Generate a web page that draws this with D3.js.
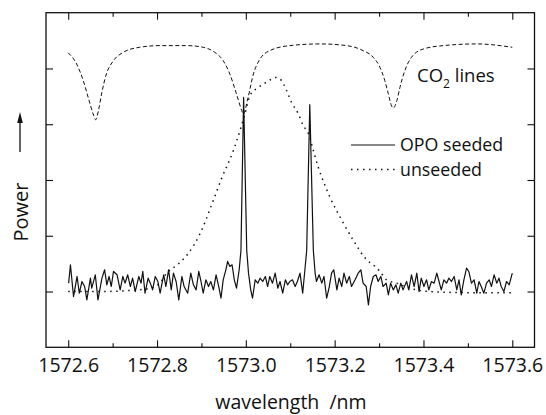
<!DOCTYPE html>
<html>
<head>
<meta charset="utf-8">
<script src="https://cdn.jsdelivr.net/npm/d3@7"></script>
<style>
  body { margin: 0; background: #fff; }
  svg text { font-family: "Open Sans", "Noto Sans", sans-serif; fill: #111; }
</style>
</head>
<body>
<div id="spectrum"></div>
<script>
// values: [wavelength nm, power a.u.]
const co2Lines = [
  [1572.600,4.28],[1572.619,4.08],[1572.634,3.78],[1572.645,3.48],[1572.656,3.19],[1572.662,3.08],
  [1572.668,3.24],[1572.675,3.54],[1572.686,3.90],[1572.701,4.13],[1572.724,4.29],[1572.761,4.38],
  [1572.807,4.41],[1572.867,4.41],[1572.904,4.38],[1572.930,4.29],[1572.949,4.14],[1572.964,3.90],
  [1572.979,3.54],[1572.991,3.24],[1572.994,3.18],[1573.005,3.48],[1573.017,3.90],[1573.032,4.17],
  [1573.054,4.32],[1573.099,4.41],[1573.167,4.44],[1573.227,4.41],[1573.264,4.32],[1573.287,4.20],
  [1573.302,4.02],[1573.313,3.78],[1573.321,3.54],[1573.328,3.33],[1573.332,3.29],[1573.340,3.42],
  [1573.347,3.66],[1573.358,3.96],[1573.373,4.20],[1573.400,4.35],[1573.445,4.41],[1573.520,4.44],
  [1573.600,4.38]
];

const unseeded = [
  [1572.600,0.00],[1572.671,0.00],[1572.739,0.02],[1572.784,0.06],[1572.807,0.16],[1572.822,0.33],
  [1572.846,0.48],[1572.858,0.57],[1572.869,0.67],[1572.897,1.04],[1572.927,1.64],[1572.945,2.02],
  [1572.972,2.53],[1572.987,2.89],[1572.998,3.19],[1573.009,3.51],[1573.028,3.66],[1573.050,3.77],
  [1573.066,3.84],[1573.077,3.81],[1573.092,3.60],[1573.103,3.39],[1573.118,3.19],[1573.129,2.98],
  [1573.141,2.83],[1573.152,2.53],[1573.163,2.23],[1573.171,2.05],[1573.189,1.70],[1573.216,1.28],
  [1573.242,0.92],[1573.272,0.57],[1573.291,0.45],[1573.302,0.36],[1573.317,0.21],[1573.340,0.15],
  [1573.358,0.09],[1573.414,0.00],[1573.504,-0.02],[1573.600,-0.02]
];

const seeded = [
  [1572.601,0.15],[1572.605,0.48],[1572.612,-0.09],[1572.620,0.27],[1572.625,-0.03],[1572.631,0.18],
  [1572.637,0.09],[1572.642,-0.15],[1572.650,0.24],[1572.653,0.06],[1572.661,0.30],[1572.667,-0.15],
  [1572.676,0.24],[1572.682,0.39],[1572.687,0.12],[1572.692,0.27],[1572.697,0.09],[1572.702,0.36],
  [1572.710,0.30],[1572.717,0.03],[1572.723,0.27],[1572.728,0.15],[1572.734,0.30],[1572.740,0.09],
  [1572.745,0.24],[1572.751,0.00],[1572.759,0.27],[1572.764,0.15],[1572.768,0.36],[1572.773,-0.03],
  [1572.780,0.24],[1572.785,0.15],[1572.790,0.03],[1572.796,0.27],[1572.802,0.18],[1572.807,-0.03],
  [1572.815,0.30],[1572.820,0.09],[1572.826,0.39],[1572.832,0.03],[1572.837,0.33],[1572.843,0.18],
  [1572.849,-0.15],[1572.856,0.27],[1572.861,0.09],[1572.869,-0.03],[1572.876,0.33],[1572.882,0.12],
  [1572.888,0.03],[1572.894,0.36],[1572.899,0.18],[1572.904,-0.03],[1572.910,0.21],[1572.916,0.09],
  [1572.921,0.18],[1572.927,0.03],[1572.933,0.30],[1572.939,0.09],[1572.944,-0.12],[1572.949,0.21],
  [1572.955,0.39],[1572.959,0.54],[1572.964,0.45],[1572.969,0.48],[1572.974,0.21],[1572.979,0.06],
  [1572.985,0.39],[1572.989,0.74],[1572.995,3.48],[1573.002,0.74],[1573.006,0.33],[1573.011,0.03],
  [1573.015,-0.12],[1573.021,0.21],[1573.027,0.15],[1573.032,0.24],[1573.038,0.18],[1573.044,0.27],
  [1573.049,0.09],[1573.054,0.27],[1573.060,0.15],[1573.066,0.33],[1573.072,0.06],[1573.077,0.18],
  [1573.083,-0.03],[1573.089,0.21],[1573.094,0.12],[1573.099,0.18],[1573.105,0.21],[1573.111,0.09],
  [1573.116,0.18],[1573.122,0.33],[1573.128,-0.03],[1573.133,0.39],[1573.137,0.74],[1573.144,3.35],
  [1573.152,0.74],[1573.156,0.33],[1573.159,0.18],[1573.165,0.30],[1573.171,0.15],[1573.176,0.27],
  [1573.182,-0.12],[1573.188,0.09],[1573.193,0.33],[1573.198,0.39],[1573.205,0.03],[1573.210,0.24],
  [1573.216,0.09],[1573.221,0.33],[1573.227,0.15],[1573.233,0.27],[1573.238,0.09],[1573.246,0.21],
  [1573.253,0.33],[1573.259,0.39],[1573.264,0.15],[1573.271,0.09],[1573.276,-0.24],[1573.281,0.09],
  [1573.287,0.27],[1573.293,0.30],[1573.298,0.18],[1573.304,0.27],[1573.309,0.09],[1573.316,0.15],
  [1573.321,-0.06],[1573.326,0.15],[1573.332,0.03],[1573.338,0.12],[1573.343,-0.03],[1573.349,0.15],
  [1573.354,0.03],[1573.362,0.18],[1573.367,0.03],[1573.373,0.30],[1573.379,0.09],[1573.385,0.33],
  [1573.390,0.00],[1573.395,0.24],[1573.401,0.09],[1573.407,0.21],[1573.412,0.03],[1573.418,0.18],
  [1573.424,0.15],[1573.430,0.33],[1573.435,0.18],[1573.440,0.03],[1573.446,0.21],[1573.452,0.15],
  [1573.457,0.24],[1573.463,0.18],[1573.469,0.27],[1573.475,0.03],[1573.480,0.21],[1573.485,-0.06],
  [1573.491,0.21],[1573.497,0.42],[1573.502,0.36],[1573.508,0.15],[1573.514,0.21],[1573.520,-0.03],
  [1573.525,0.18],[1573.530,0.09],[1573.536,-0.03],[1573.542,0.15],[1573.548,0.21],[1573.553,0.09],
  [1573.559,0.30],[1573.565,0.15],[1573.570,0.24],[1573.575,0.09],[1573.581,0.00],[1573.587,0.18],
  [1573.593,0.12],[1573.600,0.33]
];

const xMajorTicks = [1572.6, 1572.8, 1573.0, 1573.2, 1573.4, 1573.6];
const xMinorTicks = [1572.7, 1572.9, 1573.1, 1573.3, 1573.5];
const yTicks = [0, 1, 2, 3, 4];
const legendItems = ["OPO seeded", "unseeded"];

// frame
const sp_left = 46, sp_right = 534.5, sp_top = 12.7, sp_bottom = 347.3;

const sp_svg = d3.select("#spectrum")
  .append("svg")
    .attr("width", 546)
    .attr("height", 415);

const x = d3.scaleLinear().domain([1572.55, 1573.65]).range([sp_left, sp_right]);
const y = d3.scaleLinear().domain([-1, 5]).range([sp_bottom, sp_top]);

// axes, ticks pointing inwards on all four sides
const fmt = d3.format(".1f");
const bottomAx = sp_svg.append("g")
  .attr("transform", `translate(0,${sp_bottom})`)
  .call(d3.axisBottom(x).tickValues(xMajorTicks).tickFormat(fmt).tickSize(-7).tickPadding(11));
sp_svg.append("g")
  .attr("transform", `translate(0,${sp_bottom})`)
  .call(d3.axisBottom(x).tickValues(xMinorTicks).tickFormat("").tickSize(-4));
sp_svg.append("g")
  .attr("transform", `translate(0,${sp_top})`)
  .call(d3.axisTop(x).tickValues(xMajorTicks).tickFormat("").tickSize(-7));
sp_svg.append("g")
  .attr("transform", `translate(0,${sp_top})`)
  .call(d3.axisTop(x).tickValues(xMinorTicks).tickFormat("").tickSize(-4));
sp_svg.append("g")
  .attr("transform", `translate(${sp_left},0)`)
  .call(d3.axisLeft(y).tickValues(yTicks).tickFormat("").tickSize(-7));
sp_svg.append("g")
  .attr("transform", `translate(${sp_right},0)`)
  .call(d3.axisRight(y).tickValues(yTicks).tickFormat("").tickSize(-7));

sp_svg.selectAll(".domain").remove();
sp_svg.selectAll(".tick line").attr("stroke", "#111").attr("stroke-width", 1.1);
bottomAx.selectAll("text")
  .attr("font-size", 19.5)
  .attr("font-family", "'Open Sans', sans-serif")
  .attr("fill", "#111");

sp_svg.append("rect")
  .attr("x", sp_left).attr("y", sp_top)
  .attr("width", sp_right - sp_left).attr("height", sp_bottom - sp_top)
  .attr("fill", "none").attr("stroke", "#111").attr("stroke-width", 1.3);

// lines
const smooth = d3.line().x(d => x(d[0])).y(d => y(d[1])).curve(d3.curveMonotoneX);
const raw = d3.line().x(d => x(d[0])).y(d => y(d[1]));

sp_svg.append("path")
  .datum(co2Lines)
  .attr("fill", "none")
  .attr("stroke", "#111")
  .attr("stroke-width", 1)
  .attr("stroke-dasharray", "4,2.5")
  .attr("d", smooth);

sp_svg.append("path")
  .datum(unseeded)
  .attr("fill", "none")
  .attr("stroke", "#111")
  .attr("stroke-width", 1.5)
  .attr("stroke-dasharray", "1.5,4.5")
  .attr("d", smooth);

sp_svg.append("path")
  .datum(seeded)
  .attr("fill", "none")
  .attr("stroke", "#111")
  .attr("stroke-width", 1.2)
  .attr("stroke-linejoin", "round")
  .attr("d", raw);

// legend
const legend = sp_svg.append("g")
  .selectAll("g")
  .data(legendItems)
  .join("g")
  .attr("transform", (d, i) => `translate(0,${145 + i * 24.5})`);

legend.append("line")
  .attr("x1", 351).attr("x2", 395)
  .attr("stroke", "#111")
  .attr("stroke-width", (d, i) => i === 0 ? 1.2 : 1.5)
  .attr("stroke-dasharray", (d, i) => i === 0 ? null : "1.5,4.5");

legend.append("text")
  .attr("x", 400)
  .attr("y", 6.2)
  .attr("font-size", 17.8)
  .text(d => d);

// CO2 label
const co2 = sp_svg.append("text")
  .attr("x", 417)
  .attr("y", 82)
  .attr("font-size", 18.5);
co2.append("tspan").text("CO");
co2.append("tspan").attr("font-size", 12).attr("dy", 6).text("2");
co2.append("tspan").attr("dy", -6).text(" lines");

// axis titles
sp_svg.append("text")
  .attr("x", 291)
  .attr("y", 409)
  .attr("text-anchor", "middle")
  .attr("font-size", 19.5)
  .style("white-space", "pre")
  .text("wavelength  /nm");

sp_svg.append("text")
  .attr("transform", "translate(28,212) rotate(-90)")
  .attr("text-anchor", "middle")
  .attr("font-size", 20)
  .text("Power");

// arrow next to "Power"
sp_svg.append("line")
  .attr("x1", 20).attr("x2", 20)
  .attr("y1", 152).attr("y2", 120)
  .attr("stroke", "#111")
  .attr("stroke-width", 1.3);
sp_svg.append("path")
  .attr("d", "M20,112 L17.2,123 L22.8,123 Z")
  .attr("fill", "#111");
</script>
</body>
</html>
